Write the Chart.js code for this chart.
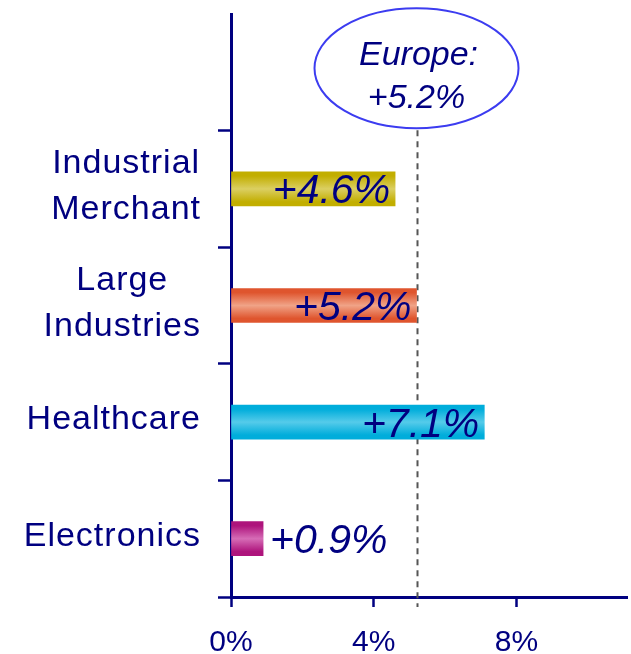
<!DOCTYPE html>
<html>
<head>
<meta charset="utf-8">
<script src="https://cdn.jsdelivr.net/npm/chart.js@4/dist/chart.umd.min.js"></script>
<style>
  html, body { margin: 0; padding: 0; background: #fff; }
  #wrap { width: 631px; height: 654px; }
</style>
</head>
<body>
<div id="wrap"><canvas id="chart"></canvas></div>
<script>
// ── Data ────────────────────────────────────────────────────────────────────
const categories  = ['', ['Industrial', 'Merchant'], ['Large', 'Industries'], 'Healthcare', 'Electronics'];
const growth      = [null, 4.6, 5.2, 7.1, 0.9];
const europeLabel = ['Europe:', '+5.2%'];
const europeValue = 5.2;
const xTickValues = [0, 4, 8];

const edgeColors = [null, '#C2AE00', '#DF552E', '#00ADDB', '#AE147C'];
const midColors  = [null, '#DBCF62', '#F0A387', '#55CBEA', '#D66CB6'];

const NAVY = '#000080';
const FONT = 'Arial, "Liberation Sans", sans-serif';
const BAR_H = 34;

function fmt(v) { return '+' + v.toFixed(1) + '%'; }

// ── Bar gradient (vertical, dark edges, light middle) ──────────────────────
function barFill(ctx) {
  const chart = ctx.chart;
  const i = ctx.dataIndex;
  const yScale = chart.scales.y;
  if (!yScale || edgeColors[i] == null) return 'transparent';
  const yc = yScale.getPixelForValue(i);
  const g = chart.ctx.createLinearGradient(0, yc - BAR_H / 2, 0, yc + BAR_H / 2);
  g.addColorStop(0, edgeColors[i]);
  g.addColorStop(0.12, edgeColors[i]);
  g.addColorStop(0.5, midColors[i]);
  g.addColorStop(0.88, edgeColors[i]);
  g.addColorStop(1, edgeColors[i]);
  return g;
}

// ── Annotations: europe line + ellipse, value labels, category labels ───────
const annotations = {
  id: 'annotations',
  beforeDatasetsDraw(chart) {
    const { ctx, scales: { x, y } } = chart;
    const lx = Math.round(x.getPixelForValue(europeValue)) + 0.5;
    ctx.save();
    ctx.strokeStyle = '#555555';
    ctx.lineWidth = 2;
    ctx.setLineDash([6, 5]);
    ctx.beginPath();
    ctx.moveTo(lx, y.getPixelForValue(0) + 58);
    ctx.lineTo(lx, y.bottom + 10);
    ctx.stroke();
    ctx.restore();
  },
  afterDatasetsDraw(chart) {
    const { ctx, scales: { x, y } } = chart;
    ctx.save();

    // bubble
    const cx = x.getPixelForValue(europeValue);
    const cy = y.getPixelForValue(0) - 4;
    ctx.strokeStyle = '#3C3CF0';
    ctx.lineWidth = 2;
    ctx.beginPath();
    ctx.ellipse(cx, cy, 102, 60, 0, 0, Math.PI * 2);
    ctx.stroke();
    ctx.fillStyle = NAVY;
    ctx.font = 'italic 34px ' + FONT;
    ctx.textAlign = 'center';
    ctx.textBaseline = 'middle';
    ctx.fillText(europeLabel[0], cx + 2, cy - 13);
    ctx.fillText(europeLabel[1], cx, cy + 30);

    // value labels
    ctx.font = 'italic 41px ' + FONT;
    growth.forEach((v, i) => {
      if (v == null) return;
      const xe = x.getPixelForValue(v);
      const yc = y.getPixelForValue(i) + 3;
      if (v < 2) {
        ctx.textAlign = 'left';
        ctx.fillText(fmt(v), xe + 7, yc);
      } else {
        ctx.textAlign = 'right';
        ctx.fillText(fmt(v), xe - 5, yc);
      }
    });
    ctx.restore();
  },
  afterDraw(chart) {
    const { ctx, scales: { y } } = chart;
    ctx.save();
    ctx.fillStyle = NAVY;
    ctx.font = '34px ' + FONT;
    ctx.letterSpacing = '1px';
    ctx.textAlign = 'center';
    ctx.textBaseline = 'middle';
    const rightEdge = 201;
    categories.forEach((lab, i) => {
      const lines = Array.isArray(lab) ? lab : [lab];
      if (!lines[0]) return;
      const w = Math.max(...lines.map(s => ctx.measureText(s).width));
      const cxl = rightEdge - w / 2;
      const yc = y.getPixelForValue(i) - 2;
      const step = 46;
      lines.forEach((s, k) => {
        ctx.fillText(s, cxl, yc + (k - (lines.length - 1) / 2) * step);
      });
    });
    ctx.restore();
  }
};

new Chart(document.getElementById('chart'), {
  type: 'bar',
  data: {
    labels: categories,
    datasets: [{
      data: growth,
      backgroundColor: barFill,
      borderWidth: 0,
      barThickness: BAR_H
    }]
  },
  options: {
    indexAxis: 'y',
    animation: false,
    responsive: true,
    maintainAspectRatio: false,
    layout: { padding: { top: 14, right: 4, left: 0, bottom: 0 } },
    plugins: { legend: { display: false }, tooltip: { enabled: false } },
    scales: {
      x: {
        min: 0,
        max: 11.1,
        afterBuildTicks: s => { s.ticks = xTickValues.map(v => ({ value: v })); },
        afterFit: s => { s.height = 57; },
        border: { display: true, color: NAVY, width: 3 },
        grid: { drawOnChartArea: false, drawTicks: true, tickLength: 10, color: NAVY, tickColor: NAVY, tickWidth: 2.5 },
        ticks: {
          color: NAVY,
          font: { family: FONT, size: 30 },
          padding: 18,
          maxRotation: 0,
          callback: v => v + '%'
        }
      },
      y: {
        afterFit: s => { s.width = 231; },
        border: { display: true, color: NAVY, width: 3 },
        grid: {
          offset: true,
          drawOnChartArea: false,
          tickLength: 13,
          tickWidth: 2.5,
          color: c => c.index === 0 ? 'rgba(0,0,0,0)' : NAVY,
          tickColor: c => c.index === 0 ? 'rgba(0,0,0,0)' : NAVY
        },
        ticks: { display: false }
      }
    }
  },
  plugins: [annotations]
});
</script>
</body>
</html>
